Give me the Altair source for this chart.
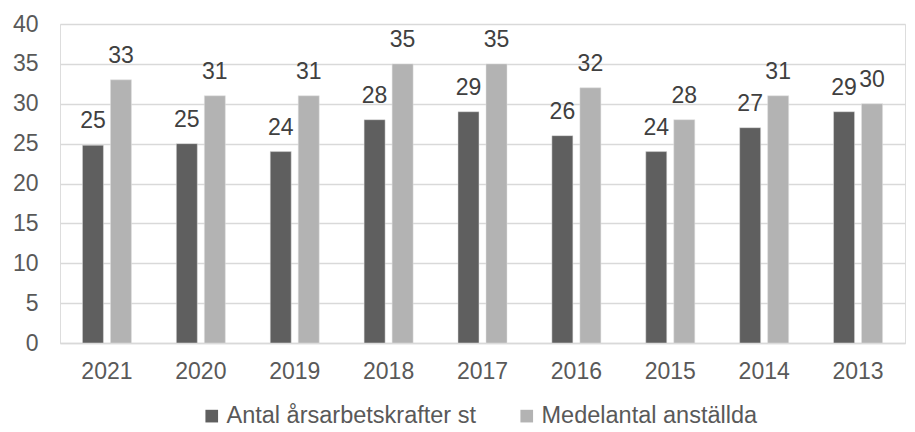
import altair as alt
import pandas as pd

years = ["2021", "2020", "2019", "2018", "2017", "2016", "2015", "2014", "2013"]
series_names = ["Antal årsarbetskrafter st", "Medelantal anställda"]
arsarbetskrafter = [24.8, 25, 24, 28, 29, 26, 24, 27, 29]
medelantal = [33, 31, 31, 35, 35, 32, 28, 31, 30]
colors = ["#5f5f5f", "#b3b3b3"]

rows = []
for y, a, m in zip(years, arsarbetskrafter, medelantal):
    rows.append({"year": y, "series": series_names[0], "value": a})
    rows.append({"year": y, "series": series_names[1], "value": m})
df = pd.DataFrame(rows)

FONT = "Liberation Sans"
TXT = "#595959"
FS = 23

x = alt.X("year:N", sort=years, title=None,
          scale=alt.Scale(paddingInner=0.478, paddingOuter=0.239),
          axis=alt.Axis(labelAngle=0, labelFontSize=FS, labelColor=TXT, labelFont=FONT,
                        ticks=False, domain=True, domainColor="#d9d9d9", domainWidth=1.5,
                        labelPadding=17))
xo = alt.XOffset("series:N", sort=series_names,
                 scale=alt.Scale(paddingInner=0.25, paddingOuter=0))
y = alt.Y("value:Q", title=None,
          scale=alt.Scale(domain=[0, 40], nice=False),
          axis=alt.Axis(values=list(range(0, 41, 5)), labelFontSize=FS, labelColor=TXT,
                        labelFont=FONT, ticks=False, domain=False, gridColor="#d9d9d9",
                        gridWidth=1.5, labelPadding=22))
color = alt.Color("series:N", sort=series_names, title=None,
                  scale=alt.Scale(domain=series_names, range=colors),
                  legend=alt.Legend(orient="none", legendX=140, legendY=380,
                                    direction="horizontal", symbolType="square",
                                    symbolSize=160, symbolStrokeWidth=0,
                                    labelFontSize=23.5, labelColor=TXT, labelFont=FONT,
                                    labelLimit=0, columnPadding=39, labelOffset=3))

base = alt.Chart(df)
bars = base.mark_bar(stroke="#e0e0e0", strokeWidth=0.5).encode(x=x, xOffset=xo, y=y, color=color)
labels = base.mark_text(dy=-17, baseline="alphabetic", fontSize=FS, font=FONT, color="#404040").encode(
    x=x, xOffset=xo, y=y, text=alt.Text("value:Q", format=".0f"))

chart = (bars + labels).properties(
    width=845, height=319,
    autosize=alt.AutoSizeParams(type="none"),
    padding={"left": 52, "top": 16, "right": 2, "bottom": 89},
).configure_view(stroke=None).configure(background="white")

chart.save("out.html", embed_options={"renderer": "svg", "actions": False})
